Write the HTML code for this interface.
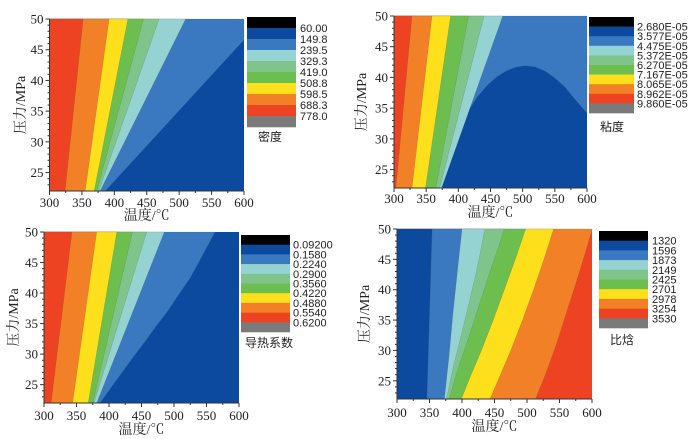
<!DOCTYPE html>
<html><head><meta charset="utf-8"><style>
body{margin:0;background:#fff;}
svg{display:block;}
text{font-family:"Liberation Serif","Noto Serif CJK SC",serif;}
.lg{font-family:"Liberation Sans","Noto Sans CJK SC",sans-serif;font-size:11px;fill:#222;}
</style></head><body>
<svg id="c" width="690" height="439" viewBox="0 0 690 439" xmlns="http://www.w3.org/2000/svg"></svg>
<script>
// ---- data ----
const xTicks = [300,350,400,450,500,550,600];
const yTicks = [25,30,35,40,45];
const colorsDensity = ['#000000','#0b4a9e','#3a78bf','#95d3d3','#7fc48a','#6cbf4f','#fddf1c','#f28026','#ee4323','#7a7a7a'];
const densityLabels = ['60.00','149.8','239.5','329.3','419.0','508.8','598.5','688.3','778.0'];
const viscosityLabels = ['2.680E-05','3.577E-05','4.475E-05','5.372E-05','6.270E-05','7.167E-05','8.065E-05','8.962E-05','9.860E-05'];
const conductivityLabels = ['0.09200','0.1580','0.2240','0.2900','0.3560','0.4220','0.4880','0.5540','0.6200'];
const enthalpyLabels = ['1320','1596','1873','2149','2425','2701','2978','3254','3530'];
// boundaries: [temperature, pressure] points, from P=22 up to P=50; left region colour listed
const densityBoundaries = [
  [[386,22],[600,46.6],[600,50]],
  [[378,22],[510,50]],
  [[376,22],[469,50]],
  [[373,22],[445,50]],
  [[369,22],[421,50]],
  [[355,22],[392,50]],
  [[324,22],[352,50]]
];
const densityFills = ['#0b4a9e','#3a78bf','#95d3d3','#7fc48a','#6cbf4f','#fddf1c','#f28026','#ee4323'];
const viscosityBoundaries = [
  [[374,22],[380,25],[390,28.5],[400,31.3],[415,34.5],[430,36.9],[445,38.7],[460,40.1],[475,41.1],[490,41.7],[505,41.9],[520,41.7],[535,41],[550,39.9],[565,38.5],[580,36.6],[600,34.2],[600,50]],
  [[374,22],[469,50]],
  [[371,22],[440,50]],
  [[365,22],[416,50]],
  [[349,22],[388,50]],
  [[328,22],[359,50]],
  [[303,22],[328,50]]
];
const viscosityFills = ['#0b4a9e','#3a78bf','#95d3d3','#7fc48a','#6cbf4f','#fddf1c','#f28026','#ee4323'];
const conductivityBoundaries = [
  [[386,22],[403,24.5],[420,27],[437,29.5],[455,32],[472,34.5],[490,37],[507,39.7],[525,42.5],[544,46.2],[563,50]],
  [[381,22],[485,50]],
  [[377,22],[458,50]],
  [[375,22],[436,50]],
  [[368,22],[412,50]],
  [[344,22],[381,50]],
  [[311,22],[343,50]]
];
const conductivityFills = ['#0b4a9e','#3a78bf','#95d3d3','#7fc48a','#6cbf4f','#fddf1c','#f28026','#ee4323'];
const enthalpyBoundaries = [
  [[513,22],[530,26.5],[545,31],[560,36],[575,41],[588,45.5],[600,49.8],[600,50]],
  [[443,22],[459,26],[475,30],[493,35],[510,40],[526,45],[541,50]],
  [[399,22],[414,26],[430,30],[448,35],[465,40],[482,45],[498,50]],
  [[380,22],[394,27],[410,32],[425,37],[440,42],[453,46],[465,50]],
  [[376,22],[387,27.5],[400,33],[410,37.5],[420,42],[428,46],[435,50]],
  [[373,22],[380,29],[386,36],[393,43],[400,50]],
  [[346,22],[350,36],[354,50]]
];
const enthalpyFills = ['#ee4323','#f28026','#fddf1c','#6cbf4f','#7fc48a','#95d3d3','#3a78bf','#0b4a9e'];

const panels = [
  {id:'density',x0:49.5,x1:244,yT:19,yB:191,b:densityBoundaries,f:densityFills,labels:densityLabels,
   lx:247,lw:49,ly:17,bh:11,tx:300,title:'密度',ttx:258,tty:141,ylx:22,xtY:207,xlY:220},
  {id:'viscosity',x0:394,x1:587,yT:16,yB:188,b:viscosityBoundaries,f:viscosityFills,labels:viscosityLabels,
   lx:589,lw:45,ly:17,bh:9.6,tx:637,title:'粘度',ttx:600,tty:131,ylx:363,xtY:203,xlY:217},
  {id:'conductivity',x0:44,x1:239,yT:232,yB:403,b:conductivityBoundaries,f:conductivityFills,labels:conductivityLabels,
   lx:241,lw:49,ly:235,bh:9.7,tx:293,title:'导热系数',ttx:245,tty:347,ylx:15,xtY:420,xlY:434},
  {id:'enthalpy',x0:397,x1:592,yT:229,yB:399,b:enthalpyBoundaries,f:enthalpyFills,labels:enthalpyLabels,
   lx:599,lw:49,ly:231,bh:9.7,tx:652,title:'比焓',ttx:610,tty:344,ylx:366,xtY:417,xlY:431}
];

const NS='http://www.w3.org/2000/svg';
const svg=document.getElementById('c');
function mk(tag,attrs,parent){const e=document.createElementNS(NS,tag);for(const k in attrs)e.setAttribute(k,attrs[k]);(parent||svg).appendChild(e);return e;}

panels.forEach(p=>{
  const g=mk('g',{});
  
  
  const xs=T=>p.x0+(T-300)/300*(p.x1-p.x0);
  const ys=P=>p.yB-(P-22)/28*(p.yB-p.yT);
  const bg=mk('rect',{x:p.x0,y:p.yT,width:p.x1-p.x0,height:p.yB-p.yT,fill:p.f[0]},g);
  
  
  p.b.forEach((pts,i)=>{
    const all=pts.concat([[300,50],[300,22]]);
    const d=all.map(q=>xs(q[0]).toFixed(1)+','+ys(q[1]).toFixed(1)).join(' ');
    const poly=mk('polygon',{points:d,fill:p.f[i+1],stroke:'#555','stroke-width':0.3,'stroke-opacity':0.5},g);
    
    
  });
  mk('line',{x1:p.x0,y1:p.yT,x2:p.x0,y2:p.yB,stroke:'#333','stroke-width':1},g);
  mk('line',{x1:p.x0,y1:p.yB,x2:p.x1,y2:p.yB,stroke:'#333','stroke-width':1},g);
  xTicks.forEach((t,i)=>{
    const x=xs(t);
    mk('line',{x1:x,y1:p.yB,x2:x,y2:p.yB+4,stroke:'#333'},g);
    if(i<xTicks.length-1){const xm=xs(t+25);mk('line',{x1:xm,y1:p.yB,x2:xm,y2:p.yB+2,stroke:'#333'},g);}
    const tx=mk('text',{x:x,y:p.xtY,'font-size':13,'text-anchor':'middle',fill:'#222'},g);
    tx.textContent=t;
    
    
  });
  for(let P=23;P<=50;P++){
    const y=ys(P);const major=(P%5===0);
    mk('line',{x1:p.x0,y1:y,x2:p.x0-(major?4:2),y2:y,stroke:'#333'},g);
  }
  yTicks.concat([50]).forEach(t=>{
    const tx=mk('text',{x:p.x0-6,y:ys(t)+4.5,'font-size':13,'text-anchor':'end',fill:'#222'},g);
    tx.textContent=t;
    
    
  });
  const xl=mk('text',{x:(p.x0+p.x1)/2,y:p.xlY,'font-size':14,'text-anchor':'middle',fill:'#222'},g);
  xl.textContent='温度/℃';
  
  
  const ymid=(p.yT+p.yB)/2;
  const yl=mk('text',{x:p.ylx,y:ymid,'font-size':14,'text-anchor':'middle',fill:'#222',transform:'rotate(-90 '+p.ylx+' '+ymid+')','dominant-baseline':'middle'},g);
  yl.textContent='压力/MPa';
  
  
  colorsDensity.forEach((c,i)=>{
    const r=mk('rect',{x:p.lx,y:p.ly+i*p.bh,width:p.lw,height:p.bh+0.3,fill:c},g);
    
    
  });
  p.labels.forEach((l,i)=>{
    const t=mk('text',{x:p.tx,y:p.ly+(i+1)*p.bh+4,class:'lg'},g);
    t.textContent=l;
    
    
  });
  const tt=mk('text',{x:p.ttx,y:p.tty,class:'lg',style:'font-size:12px'},g);
  tt.textContent=p.title;
  
  
});
</script>
</body></html>
